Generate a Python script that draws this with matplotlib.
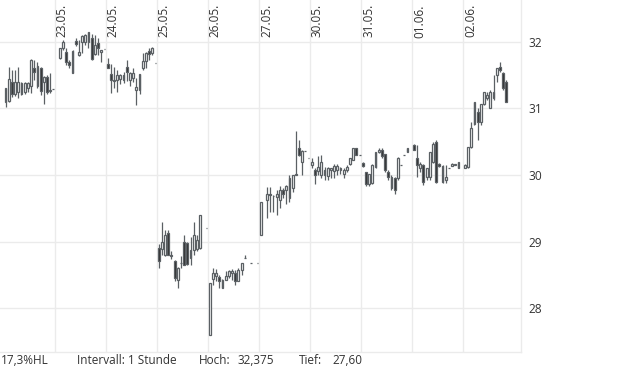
import matplotlib
matplotlib.use("Agg")
import matplotlib.pyplot as plt
from matplotlib.transforms import blended_transform_factory

plt.rcParams['font.family'] = ['Open Sans', 'DejaVu Sans']

nan = float('nan')
day_labels = ["20.05.", "23.05.", "24.05.", "25.05.", "26.05.", "27.05.",
              "30.05.", "31.05.", "01.06.", "02.06."]
slots_per_day = 16

# hourly candles, 16 slots per day (nan = no trade)
opens = [
    # 20.05.
    31.10, 31.11, 31.40, 31.22, 31.25, 31.38, 31.25, 31.30, 31.33, 31.61, 31.33, 31.60, 31.40, 31.47, 31.26, 31.29,
    # 23.05.
    32.375, 31.75, 31.90, 31.85, 31.70, 31.53, 32.01, 31.80, 32.00, 31.99, 32.00, 32.05, 31.82, 31.98, 31.85, 31.89,
    # 24.05.
    31.66, 31.52, 31.41, 31.42, 31.44, 31.50, 31.62, 31.43, 31.46, 31.28, 31.28, 31.60, 31.71, 31.86, 31.83, 31.68,
    # 25.05.
    28.90, 28.88, 28.80, 29.13, 28.79, 28.71, 28.42, 28.68, 29.00, 28.98, 28.75, 28.87, 28.88, 28.90, nan, 29.20,
    # 26.05.
    27.60, 28.43, 28.48, 28.46, 28.30, 28.42, 28.48, 28.53, 28.53, 28.41, 28.57, 28.75, nan, 28.68, nan, 28.68,
    # 27.05.
    29.10, nan, 29.62, 29.72, 29.68, 29.67, 29.62, 29.77, 29.77, 29.65, 29.80, 30.00, 30.40, 30.20, 30.36, 30.25,
    # 30.05.
    30.15, 30.08, 30.06, 30.00, 30.08, 29.98, 30.08, 30.06, 30.07, 30.08, 30.02, 30.08, 30.17, 30.23, 30.40, 30.30,
    # 31.05.
    30.18, 30.05, 29.87, 29.88, 30.12, 30.35, 30.37, 30.31, 30.05, 29.97, 29.95, 29.95, 30.15, 30.30, 30.35, nan,
    # 01.06.
    30.45, 30.25, 30.10, 30.15, 29.97, 29.97, 30.20, 30.50, 30.17, 30.13, 29.92, 30.11, 30.13, 30.15, 30.11, nan,
    # 02.06.
    30.10, 30.12, 30.42, 30.77, 30.95, 30.80, 31.07, 31.15, 31.00, 31.15, 31.50, 31.62, 31.53, 31.40,
]
highs = [
    31.31, 31.62, 31.57, 31.58, 31.62, 31.40, 31.40, 31.40, 31.74, 31.72, 31.69, 31.62, 31.48, 31.50, 31.53, 31.29,
    32.375, 31.90, 32.02, 31.90, 31.72, 31.87, 32.05, 32.02, 32.10, 32.12, 32.15, 32.12, 32.10, 32.05, 31.88, 31.89,
    31.75, 31.66, 31.62, 31.57, 31.52, 31.55, 31.72, 31.55, 31.60, 31.45, 31.52, 31.83, 31.85, 31.90, 31.92, 31.68,
    28.97, 29.30, 29.17, 29.17, 28.85, 28.72, 28.62, 28.78, 29.10, 29.00, 29.07, 29.30, 29.10, 29.40, nan, 29.20,
    28.38, 28.60, 28.58, 28.50, 28.44, 28.55, 28.57, 28.58, 28.57, 28.60, 28.68, 28.80, nan, 28.68, nan, 28.68,
    29.60, nan, 29.82, 29.82, 29.70, 29.77, 29.83, 29.80, 29.85, 30.00, 30.00, 30.66, 30.52, 30.37, 30.36, 30.25,
    30.25, 30.10, 30.28, 30.30, 30.12, 30.12, 30.10, 30.17, 30.16, 30.12, 30.10, 30.15, 30.25, 30.40, 30.40, 30.30,
    30.20, 30.05, 30.02, 30.16, 30.35, 30.40, 30.40, 30.32, 30.08, 30.00, 29.97, 30.27, 30.15, 30.30, 30.40, nan,
    30.47, 30.45, 30.20, 30.17, 30.10, 30.35, 30.50, 30.52, 30.18, 30.15, 30.15, 30.11, 30.18, 30.17, 30.20, nan,
    30.17, 30.42, 30.80, 31.10, 31.00, 31.07, 31.25, 31.25, 31.27, 31.50, 31.60, 31.70, 31.55, 31.42,
]
lows = [
    31.02, 31.10, 31.17, 31.18, 31.15, 31.20, 31.22, 31.25, 31.23, 31.43, 31.30, 31.20, 31.07, 31.22, 31.23, 31.29,
    32.375, 31.74, 31.88, 31.65, 31.60, 31.53, 31.93, 31.78, 31.83, 31.95, 31.90, 31.72, 31.80, 31.80, 31.70, 31.89,
    31.60, 31.23, 31.30, 31.25, 31.37, 31.38, 31.41, 31.33, 31.40, 31.05, 31.22, 31.58, 31.60, 31.72, 31.80, 31.68,
    28.60, 28.80, 28.78, 28.80, 28.73, 28.40, 28.30, 28.60, 28.65, 28.65, 28.65, 28.80, 28.85, 28.88, nan, 29.20,
    27.60, 28.35, 28.40, 28.30, 28.30, 28.42, 28.45, 28.42, 28.35, 28.40, 28.50, 28.75, nan, 28.68, nan, 28.68,
    29.10, nan, 29.35, 29.45, 29.45, 29.40, 29.50, 29.65, 29.56, 29.60, 29.75, 30.00, 30.28, 30.00, 30.36, 30.25,
    30.10, 29.87, 30.00, 29.95, 29.93, 29.93, 29.95, 29.95, 30.00, 30.02, 29.95, 30.05, 30.15, 30.22, 30.30, 30.30,
    30.12, 29.84, 29.83, 29.86, 30.10, 30.33, 30.25, 30.05, 29.92, 29.78, 29.71, 29.93, 30.15, 30.30, 30.35, nan,
    30.37, 29.97, 30.05, 29.85, 29.92, 29.93, 30.18, 29.88, 30.12, 29.88, 29.88, 30.11, 30.13, 30.15, 30.11, nan,
    30.10, 30.10, 30.40, 30.75, 30.52, 30.75, 31.05, 31.12, 31.00, 31.12, 31.40, 31.55, 31.28, 31.10,
]
closes = [
    31.30, 31.44, 31.21, 31.40, 31.40, 31.22, 31.38, 31.38, 31.73, 31.55, 31.64, 31.26, 31.47, 31.25, 31.28, 31.29,
    32.375, 31.90, 32.00, 31.70, 31.65, 31.86, 31.96, 31.85, 32.08, 32.10, 32.15, 31.74, 31.95, 31.90, 31.88, 31.89,
    31.61, 31.42, 31.43, 31.50, 31.50, 31.42, 31.54, 31.53, 31.53, 31.32, 31.52, 31.71, 31.83, 31.82, 31.90, 31.68,
    28.70, 29.00, 29.10, 28.80, 28.78, 28.45, 28.60, 28.68, 28.65, 28.66, 28.87, 29.10, 29.02, 29.40, nan, 29.20,
    28.38, 28.52, 28.52, 28.40, 28.42, 28.48, 28.55, 28.55, 28.41, 28.57, 28.68, 28.75, nan, 28.68, nan, 28.68,
    29.60, nan, 29.72, 29.70, 29.69, 29.72, 29.77, 29.72, 29.83, 29.95, 30.00, 30.02, 30.30, 30.36, 30.36, 30.25,
    30.19, 30.00, 30.12, 30.20, 30.00, 30.10, 30.10, 30.14, 30.14, 30.10, 30.08, 30.12, 30.25, 30.40, 30.30, 30.30,
    30.13, 29.87, 30.02, 30.15, 30.35, 30.38, 30.28, 30.07, 29.97, 29.80, 29.78, 30.25, 30.15, 30.30, 30.40, nan,
    30.37, 30.15, 30.17, 29.90, 30.10, 30.35, 30.47, 29.90, 30.13, 29.90, 29.97, 30.11, 30.17, 30.17, 30.20, nan,
    30.15, 30.42, 30.70, 31.10, 30.80, 31.07, 31.25, 31.20, 31.25, 31.25, 31.60, 31.57, 31.30, 31.10,
]

y_ticks = [28, 29, 30, 31, 32]
footer_texts = ["17,3%HL", "Intervall: 1 Stunde", "Hoch:", "32,375", "Tief:", "27,60"]
footer_px = [1, 77, 199, 238, 299, 332]

W, H = 620, 372
fig = plt.figure(figsize=(W / 100, H / 100), dpi=100)
ax = fig.add_axes([0, 20 / H, 521 / W, 352 / H])

grid_c = "#ebebeb"
edge_c = "#5b6064"
fill_c = "#2e2e2e"
text_c = "#333333"

# gridlines
for yt in y_ticks:
    ax.axhline(yt, color=grid_c, lw=1.0, zorder=0)
for d in range(1, len(day_labels)):
    ax.axvline(d * slots_per_day - 0.5, color=grid_c, lw=1.0, zorder=0)

bw = 0.58
for i, (o, h, l, c) in enumerate(zip(opens, highs, lows, closes)):
    if o != o:
        continue
    x = i
    ax.vlines(x, l, h, color=edge_c, lw=0.9, zorder=2)
    bottom = min(o, c)
    height = abs(c - o)
    face = "white" if c >= o else fill_c
    ax.bar(x, height, bottom=bottom, width=bw, color=face, edgecolor=edge_c,
           linewidth=0.9, zorder=3)

ax.set_xlim(-1.74, 161.6)
ax.set_ylim(27.341, 32.626)

trans = blended_transform_factory(ax.transData, ax.transAxes)
for d in range(1, len(day_labels)):
    ax.text(d * slots_per_day - 0.5 + 2.3, 0.988, day_labels[d], rotation=90,
            ha="center", va="top", fontsize=8.5, color=text_c, transform=trans)

ax.yaxis.tick_right()
ax.set_yticks(y_ticks)
ax.set_yticklabels([str(v) for v in y_ticks])
ax.tick_params(axis="y", length=0, pad=5, labelsize=8.6, labelcolor=text_c)
ax.set_xticks([])
for s in ["top", "left"]:
    ax.spines[s].set_visible(False)
for s in ["right", "bottom"]:
    ax.spines[s].set_color(grid_c)
    ax.spines[s].set_linewidth(1.0)

for t, px in zip(footer_texts, footer_px):
    fig.text(px / W, (H - 361) / H, t, ha="left", va="center", fontsize=8.5, color=text_c)

fig.savefig("out.png", dpi=100)
